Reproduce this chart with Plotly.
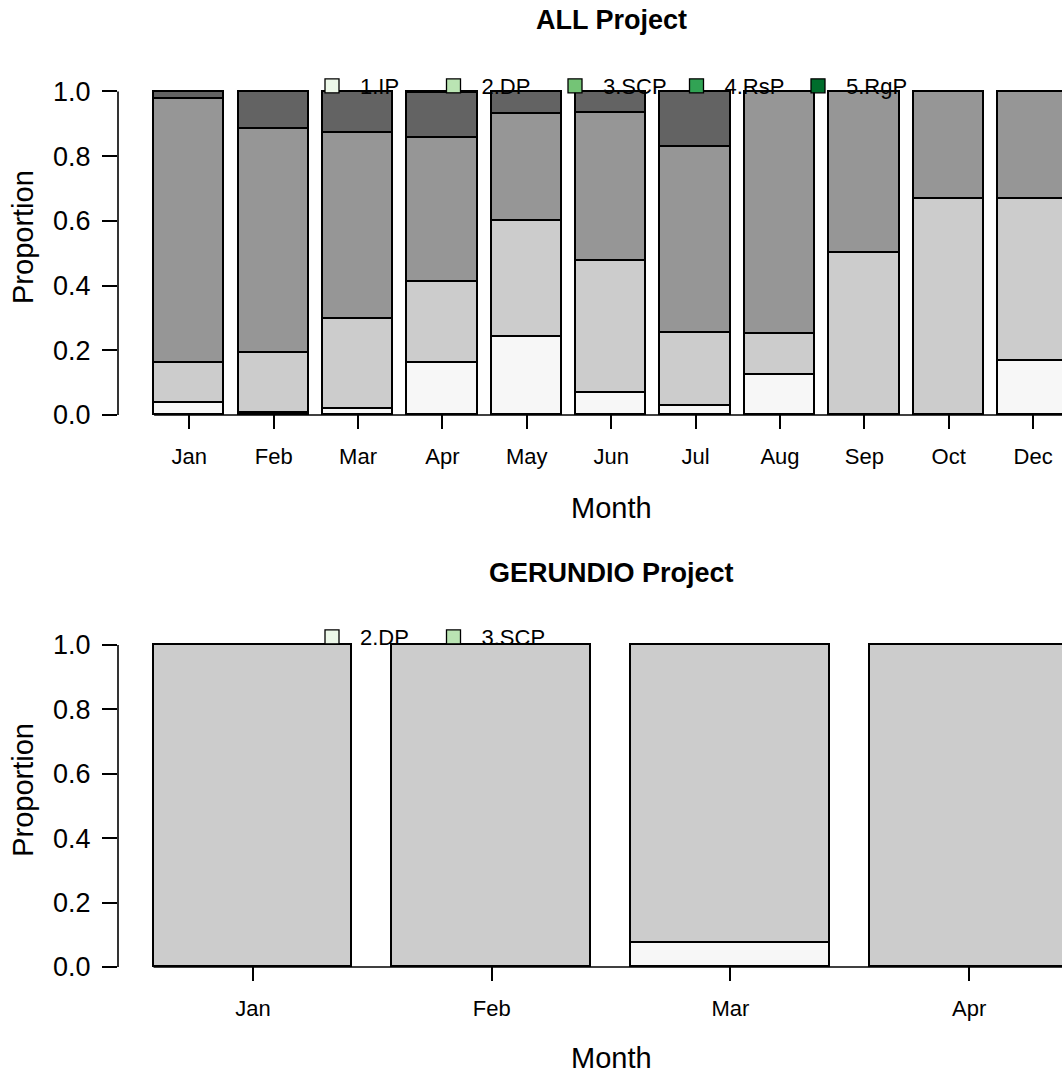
import plotly.graph_objects as go

# ---- data -------------------------------------------------------------
months_all = ["Jan", "Feb", "Mar", "Apr", "May", "Jun", "Jul", "Aug", "Sep", "Oct", "Dec"]
stages_all = ["1.IP", "2.DP", "3.SCP", "4.RsP", "5.RgP"]
all_ip  = [0.038, 0.007, 0.018, 0.162, 0.242, 0.067, 0.028, 0.125, 0.0, 0.0, 0.167]
all_dp  = [0.124, 0.184, 0.280, 0.250, 0.357, 0.409, 0.225, 0.125, 0.5, 0.667, 0.5]
all_scp = [0.815, 0.694, 0.573, 0.446, 0.331, 0.457, 0.577, 0.750, 0.5, 0.333, 0.333]
all_rsp = [0.023, 0.115, 0.129, 0.137, 0.070, 0.067, 0.170, 0.0, 0.0, 0.0, 0.0]
all_rgp = [0.0, 0.0, 0.0, 0.005, 0.0, 0.0, 0.0, 0.0, 0.0, 0.0, 0.0]

months_ger = ["Jan", "Feb", "Mar", "Apr"]
stages_ger = ["2.DP", "3.SCP"]
ger_dp  = [0.0, 0.0, 0.077, 0.0]
ger_scp = [1.0, 1.0, 0.923, 1.0]

y_ticks = [0.0, 0.2, 0.4, 0.6, 0.8, 1.0]

# ---- styling ----------------------------------------------------------
W, H = 1062, 1077
FONT = "Liberation Sans, Arial, Helvetica, sans-serif"
greys = ["#F7F7F7", "#CCCCCC", "#969696", "#636363", "#252525"]
greens = ["#EDF8E9", "#BAE4B3", "#74C476", "#31A354", "#006D2C"]
BAR_W = 1 / 1.2          # barplot default: space = 0.2
EDGE = 1.6


def px_x(p):
    return p / W


def px_y(p):
    return 1 - p / H


fig = go.Figure()

# ---- ALL Project: stacked proportions --------------------------------
all_series = [all_ip, all_dp, all_scp, all_rsp, all_rgp]
for name, vals, col in zip(stages_all, all_series, greys):
    fig.add_trace(go.Bar(
        x=list(range(len(months_all))), y=vals, name=name, width=BAR_W,
        marker=dict(color=col, line=dict(color="black", width=EDGE)),
        showlegend=False, xaxis="x", yaxis="y", hoverinfo="name+y"))

# ---- GERUNDIO Project -------------------------------------------------
for name, vals, col in zip(stages_ger, [ger_dp, ger_scp], greys):
    fig.add_trace(go.Bar(
        x=list(range(len(months_ger))), y=vals, name=name, width=BAR_W,
        marker=dict(color=col, line=dict(color="black", width=EDGE)),
        showlegend=False, xaxis="x2", yaxis="y2", hoverinfo="name+y"))

# ---- legend keys (green palette) -------------------------------------
for name, col in zip(stages_all, greens):
    fig.add_trace(go.Scatter(
        x=[None], y=[None], mode="markers", name=name,
        marker=dict(symbol="square", size=14, color=col,
                    line=dict(color="black", width=1.3)),
        xaxis="x", yaxis="y", legend="legend"))
for name, col in zip(stages_ger, greens):
    fig.add_trace(go.Scatter(
        x=[None], y=[None], mode="markers", name=name,
        marker=dict(symbol="square", size=14, color=col,
                    line=dict(color="black", width=1.3)),
        xaxis="x2", yaxis="y2", legend="legend2"))

# ---- axes geometry (pixels) ------------------------------------------
AX_LEFT = 118
top_c0, top_step = 189.3, 84.38
bot_c0, bot_step = 253.0, 238.7
top_y0, top_y1 = 415.0, 91.5
bot_y0, bot_y1 = 967.0, 645.0
Y_LO, Y_HI = -0.044, 1.144     # headroom above 1.0 leaves space for the legend


def y_domain(p0, p1):
    per = (p0 - p1)
    lo_px = p0 - Y_LO * per
    hi_px = p1 - (Y_HI - 1) * per
    return [px_y(lo_px), px_y(hi_px)]


def x_range(c0, step):
    return [(AX_LEFT - c0) / step, (W - c0) / step]


tick_font = dict(family=FONT, size=22, color="black")
ylab_font = dict(family=FONT, size=27, color="black")
title_font = dict(family=FONT, size=29, color="black")
legend_font = dict(family=FONT, size=22, color="black")

common_x = dict(showgrid=False, zeroline=False, showline=False,
                ticks="inside", ticklen=14, tickwidth=1.6, tickcolor="black",
                tickfont=tick_font, ticklabelstandoff=12, fixedrange=True)
common_y = dict(showgrid=False, zeroline=False, showline=False,
                range=[Y_LO, Y_HI], tickvals=y_ticks, tickformat=".1f",
                ticks="outside", ticklen=15, tickwidth=1.6, tickcolor="black",
                tickfont=ylab_font, ticklabelstandoff=6, fixedrange=True)

legend_common = dict(orientation="h", xanchor="left", yanchor="middle",
                     bgcolor="rgba(0,0,0,0)", font=legend_font,
                     entrywidth=60.5, entrywidthmode="pixels", itemwidth=46,
                     tracegroupgap=0, traceorder="normal")

fig.update_layout(
    width=W, height=H, margin=dict(l=0, r=0, t=0, b=0),
    paper_bgcolor="white", plot_bgcolor="white",
    barmode="stack", bargap=0,
    font=dict(family=FONT, color="black"),
    xaxis=dict(common_x, domain=[px_x(AX_LEFT), 1],
               range=x_range(top_c0, top_step),
               tickvals=list(range(len(months_all))), ticktext=months_all,
               anchor="y"),
    yaxis=dict(common_y, domain=y_domain(top_y0, top_y1), anchor="x",
               title=dict(text="Proportion", font=title_font, standoff=10)),
    xaxis2=dict(common_x, domain=[px_x(AX_LEFT), 1],
                range=x_range(bot_c0, bot_step),
                tickvals=list(range(len(months_ger))), ticktext=months_ger,
                anchor="y2"),
    yaxis2=dict(common_y, domain=y_domain(bot_y0, bot_y1), anchor="x2",
                title=dict(text="Proportion", font=title_font, standoff=10)),
    legend=dict(legend_common, x=px_x(304), y=px_y(86)),
    legend2=dict(legend_common, x=px_x(304), y=px_y(637)),
    annotations=[
        dict(text="<b>ALL Project</b>", x=px_x(611), y=px_y(20), xref="paper",
             yref="paper", showarrow=False, xanchor="center", yanchor="middle",
             font=dict(family=FONT, size=27, color="black")),
        dict(text="<b>GERUNDIO Project</b>", x=px_x(611), y=px_y(573), xref="paper",
             yref="paper", showarrow=False, xanchor="center", yanchor="middle",
             font=dict(family=FONT, size=27, color="black")),
        dict(text="Month", x=px_x(611), y=px_y(508), xref="paper",
             yref="paper", showarrow=False, xanchor="center", yanchor="middle",
             font=title_font),
        dict(text="Month", x=px_x(611), y=px_y(1058), xref="paper",
             yref="paper", showarrow=False, xanchor="center", yanchor="middle",
             font=title_font),
    ],
)

# y-axis lines spanning 0..1 and baselines under the bars
shapes = []
for yref, n in (("y", len(months_all)), ("y2", len(months_ger))):
    xref = "x" if yref == "y" else "x2"
    shapes.append(dict(type="line", xref="paper", yref=yref,
                       x0=px_x(AX_LEFT), x1=px_x(AX_LEFT), y0=0, y1=1,
                       line=dict(color="black", width=1.6)))
    shapes.append(dict(type="line", xref=xref, yref=yref,
                       x0=-BAR_W / 2, x1=n - 1 + BAR_W / 2, y0=0, y1=0,
                       line=dict(color="black", width=1.6)))
fig.update_layout(shapes=shapes)

fig.write_html("out.html")
